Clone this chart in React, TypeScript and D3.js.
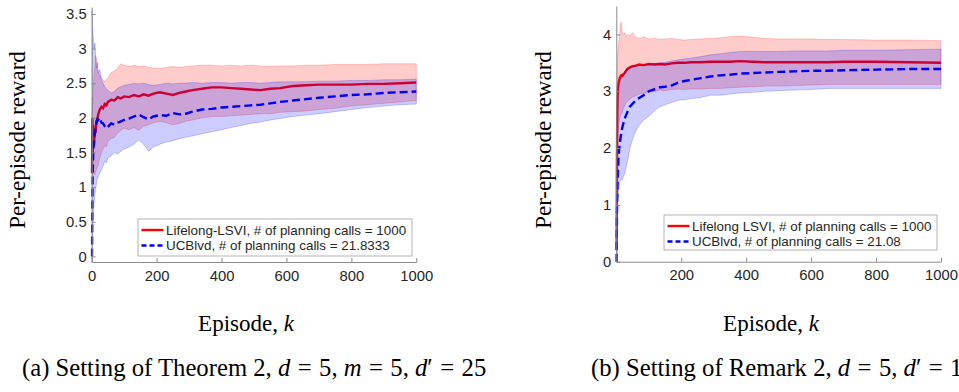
import { useEffect, useRef } from "react";
import * as d3 from "d3";

// (a) Theorem 2 setting
const leftEpisodes = [1, 2, 3, 5, 7, 10, 12, 15, 18, 20, 25, 30, 35, 40, 45, 50, 60, 70, 80, 90, 100, 115, 130, 145, 160, 175, 190, 210, 230, 250, 270, 290, 310, 340, 370, 400, 430, 460, 490, 520, 550, 580, 620, 660, 700, 750, 800, 850, 900, 950, 1000];
const leftRedMean = [1.2, 2.0, 1.45, 1.9, 1.6, 1.85, 1.78, 1.95, 2.0, 2.05, 2.12, 2.16, 2.14, 2.2, 2.18, 2.23, 2.26, 2.25, 2.3, 2.28, 2.31, 2.3, 2.33, 2.31, 2.34, 2.32, 2.35, 2.37, 2.35, 2.33, 2.36, 2.38, 2.4, 2.42, 2.44, 2.44, 2.43, 2.42, 2.41, 2.4, 2.42, 2.43, 2.46, 2.47, 2.48, 2.48, 2.48, 2.49, 2.49, 2.5, 2.51];
const leftRedHi = [2.0, 2.3, 2.2, 2.45, 2.6, 2.75, 2.9, 2.85, 2.7, 2.65, 2.62, 2.58, 2.55, 2.52, 2.55, 2.58, 2.65, 2.68, 2.72, 2.78, 2.76, 2.74, 2.76, 2.74, 2.75, 2.73, 2.72, 2.71, 2.73, 2.74, 2.73, 2.74, 2.75, 2.76, 2.76, 2.75, 2.76, 2.75, 2.76, 2.75, 2.74, 2.75, 2.75, 2.76, 2.76, 2.77, 2.77, 2.77, 2.78, 2.78, 2.78];
const leftRedLo = [1.2, 1.3, 1.15, 1.25, 1.2, 1.18, 1.22, 1.25, 1.3, 1.32, 1.42, 1.5, 1.55, 1.6, 1.58, 1.66, 1.7, 1.72, 1.78, 1.82, 1.85, 1.83, 1.86, 1.82, 1.88, 1.9, 1.93, 1.95, 1.93, 1.9, 1.92, 1.95, 1.97, 2.0, 2.02, 2.02, 2.03, 2.04, 2.05, 2.06, 2.06, 2.08, 2.09, 2.1, 2.12, 2.14, 2.17, 2.19, 2.21, 2.23, 2.25];
const leftBlueMean = [0, 0.8, 1.2, 1.55, 1.65, 1.8, 1.85, 1.95, 1.98, 1.97, 2.0, 1.93, 1.92, 1.88, 1.85, 1.87, 1.92, 1.9, 1.93, 1.95, 1.97, 1.99, 2.02, 2.05, 2.01, 1.98, 2.02, 2.04, 2.03, 2.07, 2.05, 2.06, 2.09, 2.12, 2.13, 2.15, 2.16, 2.17, 2.18, 2.19, 2.21, 2.23, 2.25, 2.27, 2.29, 2.31, 2.33, 2.34, 2.36, 2.37, 2.38];
const leftBlueHi = [3.55, 3.4, 3.3, 3.15, 3.0, 3.08, 2.9, 2.72, 2.8, 2.65, 2.7, 2.55, 2.5, 2.45, 2.42, 2.4, 2.36, 2.38, 2.43, 2.45, 2.47, 2.48, 2.5, 2.49, 2.5, 2.48, 2.47, 2.48, 2.5, 2.49, 2.5, 2.5, 2.51, 2.5, 2.51, 2.51, 2.5, 2.51, 2.51, 2.5, 2.51, 2.52, 2.52, 2.52, 2.53, 2.53, 2.54, 2.54, 2.55, 2.55, 2.56];
const leftBlueLo = [-0.08, 0.2, 0.35, 0.55, 0.75, 0.9, 0.98, 1.05, 1.15, 1.15, 1.2, 1.25, 1.3, 1.38, 1.35, 1.42, 1.45, 1.5, 1.48, 1.52, 1.55, 1.58, 1.62, 1.68, 1.62, 1.52, 1.58, 1.62, 1.65, 1.67, 1.7, 1.72, 1.74, 1.77, 1.8, 1.83, 1.86, 1.89, 1.92, 1.94, 1.97, 1.99, 2.02, 2.04, 2.06, 2.09, 2.12, 2.15, 2.17, 2.19, 2.2];

// (b) Remark 2 setting
const rightEpisodes = [1, 2, 3, 4, 5, 7, 10, 12, 15, 18, 22, 26, 30, 36, 42, 50, 60, 70, 84, 100, 120, 135, 150, 170, 190, 210, 230, 260, 290, 320, 350, 380, 420, 460, 500, 550, 600, 650, 700, 800, 900, 1000];
const rightRedMean = [0.2, 1.8, 2.6, 2.9, 3.05, 3.15, 3.22, 3.25, 3.28, 3.27, 3.3, 3.32, 3.36, 3.4, 3.42, 3.44, 3.45, 3.47, 3.46, 3.48, 3.47, 3.48, 3.47, 3.49, 3.5, 3.5, 3.51, 3.51, 3.52, 3.52, 3.52, 3.53, 3.52, 3.51, 3.51, 3.51, 3.51, 3.51, 3.52, 3.52, 3.51, 3.5];
const rightRedHi = [1.5, 2.9, 3.4, 3.6, 3.7, 3.85, 3.95, 4.15, 4.22, 4.05, 4.0, 4.03, 3.97, 4.0, 3.98, 4.03, 3.95, 3.93, 3.96, 3.92, 3.93, 3.91, 3.92, 3.93, 3.91, 3.9, 3.91, 3.92, 3.93, 3.94, 3.96, 3.97, 3.95, 3.93, 3.92, 3.92, 3.92, 3.91, 3.91, 3.9, 3.9, 3.89];
const rightRedLo = [0, 0.8, 1.6, 2.0, 2.2, 2.4, 2.5, 2.55, 2.6, 2.62, 2.7, 2.75, 2.8, 2.83, 2.86, 2.9, 2.92, 2.95, 2.96, 2.98, 3.0, 3.02, 3.01, 3.03, 3.04, 3.03, 3.04, 3.04, 3.05, 3.05, 3.06, 3.07, 3.08, 3.09, 3.09, 3.1, 3.11, 3.12, 3.12, 3.12, 3.12, 3.12];
const rightBlueMean = [0, 0.8, 1.2, 1.45, 1.6, 1.85, 2.05, 2.14, 2.25, 2.35, 2.44, 2.52, 2.58, 2.66, 2.73, 2.78, 2.84, 2.88, 2.93, 3.0, 3.04, 3.07, 3.08, 3.1, 3.15, 3.18, 3.2, 3.23, 3.26, 3.28, 3.29, 3.31, 3.32, 3.33, 3.34, 3.35, 3.36, 3.36, 3.37, 3.38, 3.39, 3.39];
const rightBlueHi = [1.0, 2.2, 2.9, 3.0, 3.05, 3.1, 3.15, 3.2, 3.25, 3.28, 3.3, 3.35, 3.38, 3.4, 3.42, 3.44, 3.45, 3.45, 3.46, 3.47, 3.49, 3.5, 3.51, 3.53, 3.55, 3.57, 3.58, 3.61, 3.64, 3.66, 3.68, 3.7, 3.7, 3.7, 3.7, 3.71, 3.71, 3.71, 3.72, 3.72, 3.73, 3.74];
const rightBlueLo = [0, 0.4, 0.8, 1.0, 1.1, 1.25, 1.4, 1.42, 1.45, 1.44, 1.5, 1.55, 1.65, 1.8, 2.0, 2.15, 2.3, 2.4, 2.49, 2.56, 2.67, 2.73, 2.76, 2.8, 2.84, 2.85, 2.87, 2.89, 2.93, 2.93, 2.95, 2.97, 2.98, 3.0, 3.01, 3.02, 3.03, 3.05, 3.05, 3.05, 3.05, 3.05];

const leftXTicks = [0, 200, 400, 600, 800, 1000];
const leftYTicks = [0, 0.5, 1, 1.5, 2, 2.5, 3, 3.5];
const rightXTicks = [200, 400, 600, 800, 1000];
const rightYTicks = [0, 1, 2, 3, 4];

const leftLegend = ["Lifelong-LSVI, # of planning calls = 1000", "UCBlvd, # of planning calls = 21.8333"];
const rightLegend = ["Lifelong LSVI, # of planning calls = 1000", "UCBlvd, # of planning calls = 21.08"];

// caption pieces: [text, kind] where kind is "n" normal, "i" italic, "eq" spaced equals
const leftCaption = [["(a) Setting of Theorem 2, ", "n"], ["d", "i"], ["=", "eq"], ["5, ", "n"], ["m", "i"], ["=", "eq"], ["5, ", "n"], ["d", "i"], ["\u2032", "n"], ["=", "eq"], ["25", "n"]];
const rightCaption = [["(b) Setting of Remark 2, ", "n"], ["d", "i"], ["=", "eq"], ["5, ", "n"], ["d", "i"], ["\u2032", "n"], ["=", "eq"], ["10", "n"]];

const SANS = "'Liberation Sans', Arial, Helvetica, sans-serif";
const SERIF = "'Liberation Serif', 'Times New Roman', serif";

function drawPanel(root, p) {
  const x = d3.scaleLinear().domain([0, 1000]).range(p.xRange);
  const y = d3.scaleLinear().domain(p.yDomain).range(p.yRange);
  const g = root.append("g");
  const idx = d3.range(p.episodes.length);

  const band = (lo, hi) =>
    d3.area().x(i => x(p.episodes[i])).y0(i => y(lo[i])).y1(i => y(hi[i]));
  const line = (v) => d3.line().x(i => x(p.episodes[i])).y(i => y(v[i]));

  // red band + line, then blue band + line (blue fill tints red line)
  g.append("path").attr("d", band(p.redLo, p.redHi)(idx))
    .attr("fill", "rgba(255,0,0,0.2)").attr("stroke", "rgba(255,0,0,0.25)").attr("stroke-width", 0.8);
  g.append("path").attr("d", line(p.redMean)(idx))
    .attr("fill", "none").attr("stroke", "#ff0000").attr("stroke-width", 2.4);
  g.append("path").attr("d", band(p.blueLo, p.blueHi)(idx))
    .attr("fill", "rgba(0,0,255,0.2)").attr("stroke", "rgba(0,0,255,0.25)").attr("stroke-width", 0.8);
  g.append("path").attr("d", line(p.blueMean)(idx))
    .attr("fill", "none").attr("stroke", "#0000ff").attr("stroke-width", 2.4)
    .attr("stroke-dasharray", "8,4");

  const xAxis = g.append("g").attr("transform", `translate(0,${p.yRange[0]})`)
    .call(d3.axisBottom(x).tickValues(p.xTicks).tickSizeInner(-4).tickSizeOuter(0).tickPadding(8).tickFormat(d => String(d)));
  const yAxis = g.append("g").attr("transform", `translate(${p.xRange[0]},0)`)
    .call(d3.axisLeft(y).tickValues(p.yTicks).tickSizeInner(-4).tickSizeOuter(0).tickPadding(5).tickFormat(d => String(d)));
  [xAxis, yAxis].forEach(a => {
    a.attr("font-family", SANS).attr("font-size", 14.8);
    a.select(".domain").attr("stroke", "#8a8a8a");
    a.selectAll(".tick line").attr("stroke", "#8a8a8a");
    a.selectAll(".tick text").attr("fill", "#262626");
  });

  // legend
  const lg = g.append("g");
  const [bx, by, bw, bh] = p.legendBox;
  lg.append("rect").attr("x", bx).attr("y", by).attr("width", bw).attr("height", bh)
    .attr("fill", "#fff").attr("stroke", "#a0a0a0").attr("stroke-width", 0.8);
  p.legend.forEach((t, i) => {
    const cy = by + 11 + i * 15.5;
    lg.append("line").attr("x1", bx + 3.5).attr("x2", bx + 25.5).attr("y1", cy).attr("y2", cy)
      .attr("stroke", i === 0 ? "#ff0000" : "#0000ff").attr("stroke-width", 2.4)
      .attr("stroke-dasharray", i === 0 ? null : "5,3");
    lg.append("text").attr("x", bx + 28).attr("y", cy).attr("dy", "0.35em")
      .attr("font-family", SANS).attr("font-size", 13.4).attr("fill", "#262626").text(t);
  });

  // axis titles
  g.append("text").attr("transform", `translate(${p.yLabelX},140) rotate(-90)`)
    .attr("text-anchor", "middle").attr("dominant-baseline", "central")
    .attr("font-family", SERIF).attr("font-size", 23).attr("fill", "#000").text("Per-episode reward");
  const xl = g.append("text").attr("x", p.xLabelX).attr("y", 331).attr("text-anchor", "middle")
    .attr("font-family", SERIF).attr("font-size", 23).attr("fill", "#000");
  xl.append("tspan").text("Episode, ");
  xl.append("tspan").attr("font-style", "italic").text("k");

  // caption
  const cap = g.append("text").attr("x", p.captionX).attr("y", 376)
    .attr("font-family", SERIF).attr("font-size", 24.7).attr("fill", "#000").style("white-space", "pre");
  let pad = false;
  p.caption.forEach(([t, kind]) => {
    const ts = cap.append("tspan").attr("font-style", kind === "i" ? "italic" : "normal").text(t);
    if (kind === "eq") ts.attr("dx", "0.3em");
    else if (pad) ts.attr("dx", "0.3em");
    pad = kind === "eq";
  });
}

const App = () => {
  const svgRef = useRef(null);

  useEffect(() => {
    const svg = d3.select(svgRef.current);
    svg.selectAll("*").remove();

    drawPanel(svg, {
      episodes: leftEpisodes,
      redMean: leftRedMean, redHi: leftRedHi, redLo: leftRedLo,
      blueMean: leftBlueMean, blueHi: leftBlueHi, blueLo: leftBlueLo,
      xRange: [91.7, 416.3], yDomain: [-0.08, 3.6], yRange: [262, 7],
      xTicks: leftXTicks, yTicks: leftYTicks,
      legend: leftLegend, legendBox: [138, 219, 274, 37],
      yLabelX: 17, xLabelX: 246, captionX: 22,
      caption: leftCaption,
    });
    drawPanel(svg, {
      episodes: rightEpisodes,
      redMean: rightRedMean, redHi: rightRedHi, redLo: rightRedLo,
      blueMean: rightBlueMean, blueHi: rightBlueHi, blueLo: rightBlueLo,
      xRange: [616.3, 941], yDomain: [0, 4.5], yRange: [261.7, 6],
      xTicks: rightXTicks, yTicks: rightYTicks,
      legend: rightLegend, legendBox: [664, 215, 273, 35],
      yLabelX: 543, xLabelX: 771, captionX: 591,
      caption: rightCaption,
    });
  }, []);

  return (
    <div style={{ position: "absolute", left: 0, top: 0 }}>
      <svg ref={svgRef} width={959} height={392} style={{ display: "block", background: "#fff" }} />
    </div>
  );
};

export default App;
